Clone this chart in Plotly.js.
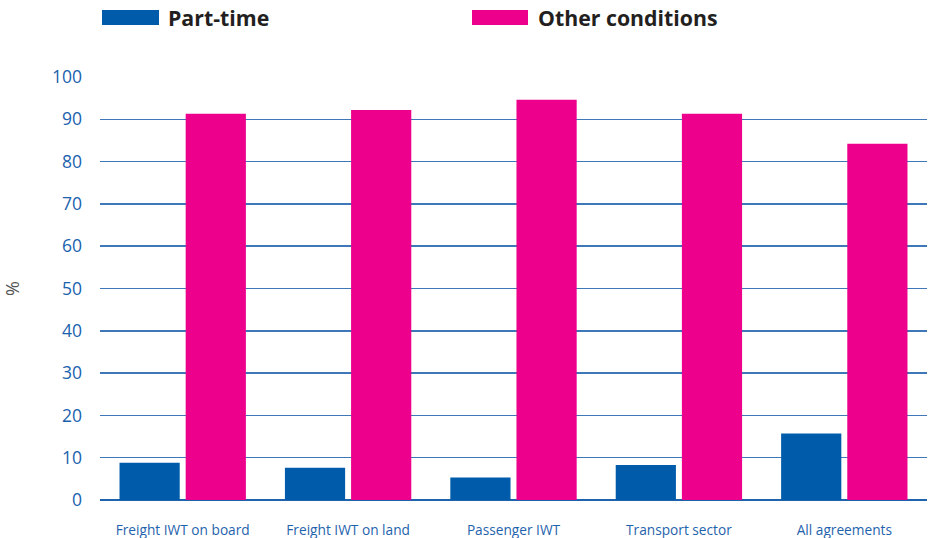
<!DOCTYPE html>
<html>
<head>
<meta charset="utf-8">
<script src="https://cdn.plot.ly/plotly-3.0.1.min.js"></script>
<style>html,body{margin:0;padding:0;background:#fff;}#chart{width:930px;height:538px;}</style>
</head>
<body>
<div id="chart"></div>
<script>
var categories = ["Freight IWT on board", "Freight IWT on land", "Passenger IWT", "Transport sector", "All agreements"];
var partTime = [8.8, 7.6, 5.3, 8.3, 15.7];
var otherConditions = [91.3, 92.2, 94.6, 91.3, 84.2];
var seriesNames = ["Part-time", "Other conditions"];
var yTicks = [0, 10, 20, 30, 40, 50, 60, 70, 80, 90, 100];

var blue = "#005CAB";
var pink = "#EC008C";

var traces = [
  {type: "bar", x: categories, y: partTime, name: seriesNames[0], marker: {color: blue}, hoverinfo: "y"},
  {type: "bar", x: categories, y: otherConditions, name: seriesNames[1], marker: {color: pink}, hoverinfo: "y"}
];

var layout = {
  width: 930, height: 538,
  margin: {l: 100, r: 3, t: 77, b: 38},
  paper_bgcolor: "#fff", plot_bgcolor: "#fff",
  barmode: "group", bargap: 0.2, bargroupgap: 0.09,
  showlegend: false,
  font: {family: "Open Sans, sans-serif"},
  xaxis: {
    type: "category",
    tickfont: {size: 13.7, color: "#1F63AC"},
    ticks: "", ticklabelstandoff: 20,
    showgrid: false, zeroline: false, showline: false
  },
  yaxis: {
    range: [0, 100], tickvals: yTicks, ticktext: yTicks.map(String),
    tickfont: {size: 17.5, color: "#1A62AE"},
    ticklabelstandoff: 17,
    showgrid: true, gridcolor: "#3F78B8", gridwidth: 1.5,
    zeroline: true, zerolinecolor: "#1F63AC", zerolinewidth: 2.5,
    showline: false, fixedrange: true,
    title: {text: "%", font: {size: 18, color: "#555555"}, standoff: 42}
  },
  shapes: [
    {type: "rect", xref: "paper", yref: "paper", x0: 2/827, x1: 59/827, y0: (538-38-10)/423, y1: (538-38-25)/423, fillcolor: blue, line: {width: 0}},
    {type: "rect", xref: "paper", yref: "paper", x0: 372/827, x1: 428/827, y0: (538-38-10)/423, y1: (538-38-25)/423, fillcolor: pink, line: {width: 0}}
  ],
  annotations: [
    {xref: "paper", yref: "paper", x: 66/827, y: (538-38-17.5)/423, xanchor: "left", yanchor: "middle", showarrow: false,
     text: "<b>" + seriesNames[0] + "</b>", font: {family: "Open Sans, sans-serif", size: 21.3, color: "#231F20"}},
    {xref: "paper", yref: "paper", x: 436/827, y: (538-38-17.5)/423, xanchor: "left", yanchor: "middle", showarrow: false,
     text: "<b>" + seriesNames[1] + "</b>", font: {family: "Open Sans, sans-serif", size: 21.3, color: "#231F20"}}
  ]
};

Plotly.newPlot("chart", traces, layout, {displayModeBar: false, staticPlot: true});
</script>
</body>
</html>
